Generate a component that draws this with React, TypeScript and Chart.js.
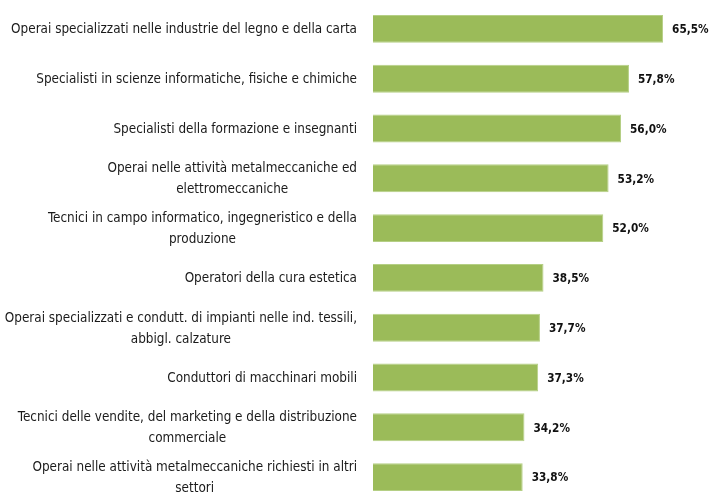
import React, { useEffect, useRef } from "react";
import { Chart, registerables } from "chart.js";

Chart.register(...registerables);

const categoryLines: string[][] = [
  ["Operai specializzati nelle industrie del legno e della carta"],
  ["Specialisti in scienze informatiche, fisiche e chimiche"],
  ["Specialisti della formazione e insegnanti"],
  ["Operai nelle attività metalmeccaniche ed", "elettromeccaniche"],
  ["Tecnici in campo informatico, ingegneristico e della", "produzione"],
  ["Operatori della cura estetica"],
  ["Operai specializzati e condutt. di impianti nelle ind. tessili,", "abbigl. calzature"],
  ["Conduttori di macchinari mobili"],
  ["Tecnici delle vendite, del marketing e della distribuzione", "commerciale"],
  ["Operai nelle attività metalmeccaniche richiesti in altri", "settori"],
];
const categories: string[] = categoryLines.map((l) => l.join(" "));
const values: number[] = [65.5, 57.8, 56.0, 53.2, 52.0, 38.5, 37.7, 37.3, 34.2, 33.8];
const valueLabels: string[] = values.map((v) => v.toFixed(1).replace(".", ",") + "%");

const FAMILY = '"DejaVu Sans Condensed", "Liberation Sans Narrow", sans-serif';
const BAR_COLOR = "#9BBB59";

const labelsPlugin = {
  id: "customLabels",
  afterDraw(chart: any) {
    const ctx = chart.ctx as CanvasRenderingContext2D;
    const yScale = chart.scales.y;
    const xScale = chart.scales.x;
    const left = chart.chartArea.left;
    ctx.save();
    // category labels
    ctx.font = `13.4px ${FAMILY}`;
    ctx.fillStyle = "#1a1a1a";
    ctx.textAlign = "center";
    ctx.textBaseline = "middle";
    const lineH = 21;
    categoryLines.forEach((lines, i) => {
      const cy = yScale.getPixelForValue(i) + 1;
      const widths = lines.map((l) => ctx.measureText(l).width);
      const bw = Math.max(...widths);
      const right = left - 16;
      const cx = right - bw / 2;
      lines.forEach((l, j) => {
        ctx.fillText(l, cx, cy + (j - (lines.length - 1) / 2) * lineH);
      });
    });
    // value labels
    ctx.font = `bold 13px ${FAMILY}`;
    ctx.fillStyle = "#111";
    ctx.textAlign = "left";
    values.forEach((v, i) => {
      const cy = yScale.getPixelForValue(i);
      const x = xScale.getPixelForValue(v) + 9;
      ctx.save();
      ctx.translate(x, cy + 1);
      ctx.scale(0.9, 1);
      ctx.fillText(valueLabels[i], 0, 0);
      ctx.restore();
    });
    ctx.restore();
  },
};

export default function App() {
  const ref = useRef<HTMLCanvasElement | null>(null);
  useEffect(() => {
    if (!ref.current) return;
    const chart = new Chart(ref.current, {
      type: "bar",
      data: {
        labels: categories,
        datasets: [
          {
            data: values,
            backgroundColor: BAR_COLOR,
            borderColor: "#B5CF85",
            borderWidth: 1,
            categoryPercentage: 1,
            barPercentage: 0.56,
          },
        ],
      },
      options: {
        indexAxis: "y",
        animation: false,
        responsive: false,
        devicePixelRatio: 1,
        layout: { padding: { left: 373, right: 27, top: 4, bottom: 4 } },
        plugins: { legend: { display: false }, tooltip: { enabled: false } },
        scales: {
          x: { display: false, min: 0, max: 70 },
          y: { display: false },
        },
      },
      plugins: [labelsPlugin],
    });
    return () => chart.destroy();
  }, []);
  return (
    <div
      style={{
        position: "fixed",
        left: 0,
        top: 0,
        width: 710,
        height: 492,
        overflow: "hidden",
        background: "#fff",
      }}
    >
      <canvas ref={ref} width={710} height={506} style={{ display: "block" }} />
    </div>
  );
}
